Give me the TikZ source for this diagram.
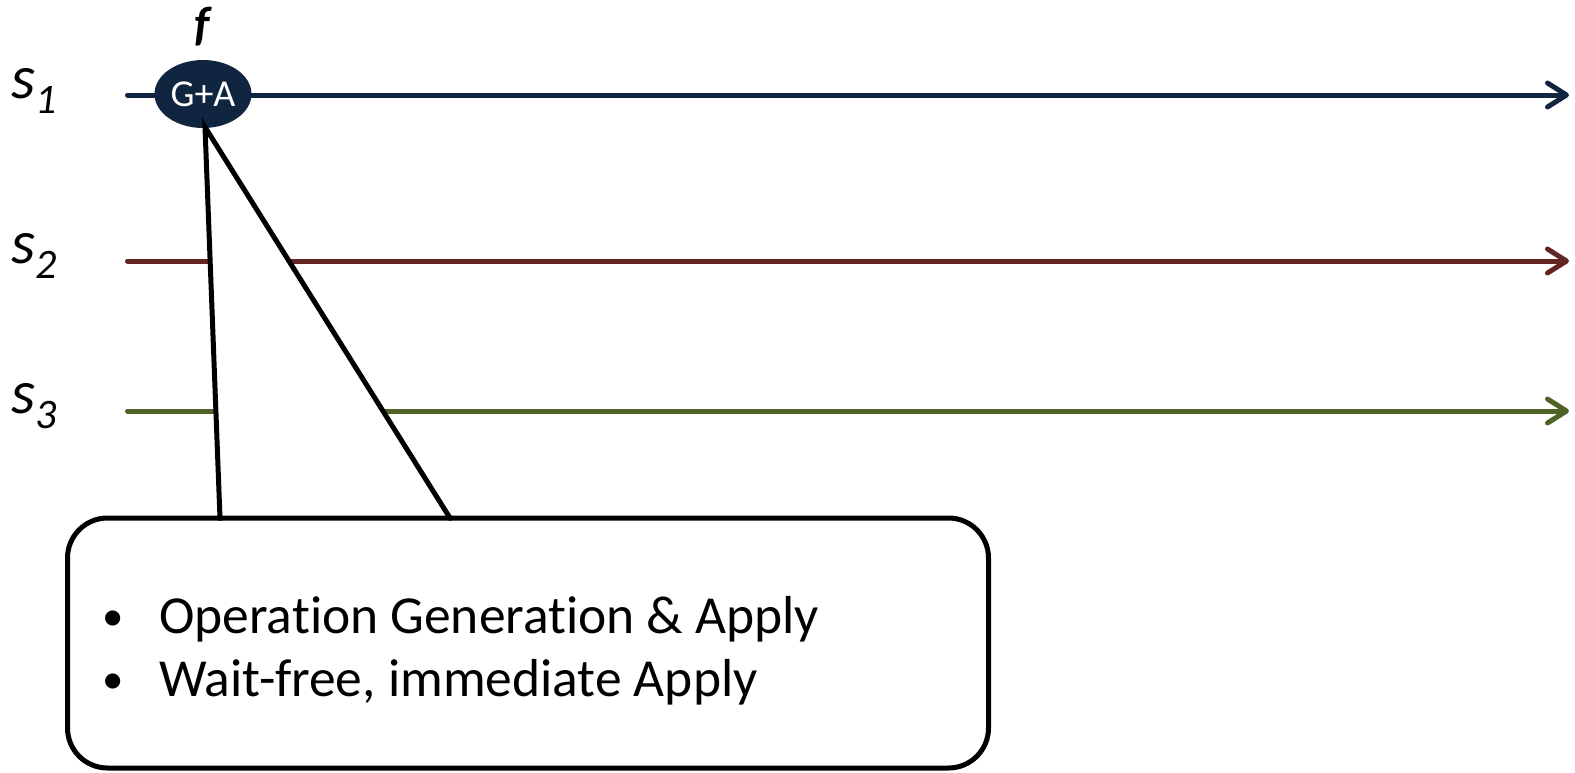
\documentclass[tikz,border=0pt]{standalone}
\usepackage{fontspec}
\setmainfont[Ligatures=NoCommon]{Carlito}
\usetikzlibrary{arrows.meta,shapes.geometric}
\definecolor{lineblue}{HTML}{10253F}
\definecolor{linered}{HTML}{632523}
\definecolor{linegreen}{HTML}{4F6228}
\begin{document}
\begin{tikzpicture}[x=1pt,y=-1pt,
  timeline/.style={line width=5pt, line cap=round,
    -{Straight Barb[length=19pt,width=24pt,line width=5pt,line cap=round,line join=round]}},
  proclabel/.style={anchor=base west, inner sep=0pt, font=\fontsize{62}{62}\selectfont\itshape},
  bullettext/.style={anchor=base west, inner sep=0pt, font=\fontsize{53.5}{63}\selectfont},
  callout/.style={draw=black, line width=5pt, fill=white, line join=round}]
\useasboundingbox (0,0) rectangle (1575,772);

% process labels
\newcommand{\proc}[1]{s\kern0pt\raisebox{-15pt}{\fontsize{42}{42}\selectfont\itshape #1}}
\node[proclabel] (l1) at (11,98) {\proc{1}};
\node[proclabel] (l2) at (11,263) {\proc{2}};
\node[proclabel] (l3) at (11,413) {\proc{3}};

% timelines
\coordinate (a1) at (127.5,95);   \coordinate (b1) at (1569,95);
\coordinate (a2) at (127.5,261);  \coordinate (b2) at (1569,261);
\coordinate (a3) at (127.5,411);  \coordinate (b3) at (1569,411);
\draw[timeline, lineblue] (a1) -- (b1);
\draw[timeline, linered] (a2) -- (b2);
\draw[timeline, linegreen] (a3) -- (b3);

% generate + apply event
\node[ellipse, fill=lineblue, minimum width=97pt, minimum height=68pt, inner sep=0pt,
      text=white, font=\fontsize{38}{38}\selectfont] (ga) at (203,94) {G+A};
\node[anchor=base, inner sep=0pt, font=\fontsize{48}{48}\selectfont\bfseries\itshape] (f) at (202,40) {f};

% callout with pointer to the event
\coordinate (tip) at (205,127);
\coordinate (pl) at (220,518);
\coordinate (pr) at (450,518);
\node[callout, rounded corners=40pt, minimum width=921pt, minimum height=250pt,
      inner sep=0pt] (note) at (528,643) {};
\fill[white] ([yshift=5pt]pl) -- (tip) -- ([yshift=5pt]pr) -- cycle;
\draw[line width=5pt, line join=miter] ([xshift=-2pt]pl) -- (pl) -- (tip) -- (pr) -- ([xshift=2pt]pr);

% callout text
\newcommand{\bul}{\makebox[58pt][l]{\kern1pt\raisebox{3pt}{\scalebox{0.8}{•}}}}
\node[bullettext] (i1) at (101,633) {\bul Operation Generation \& Apply};
\node[bullettext] (i2) at (101,696) {\bul Wait-free, immediate Apply};
\end{tikzpicture}
\end{document}
